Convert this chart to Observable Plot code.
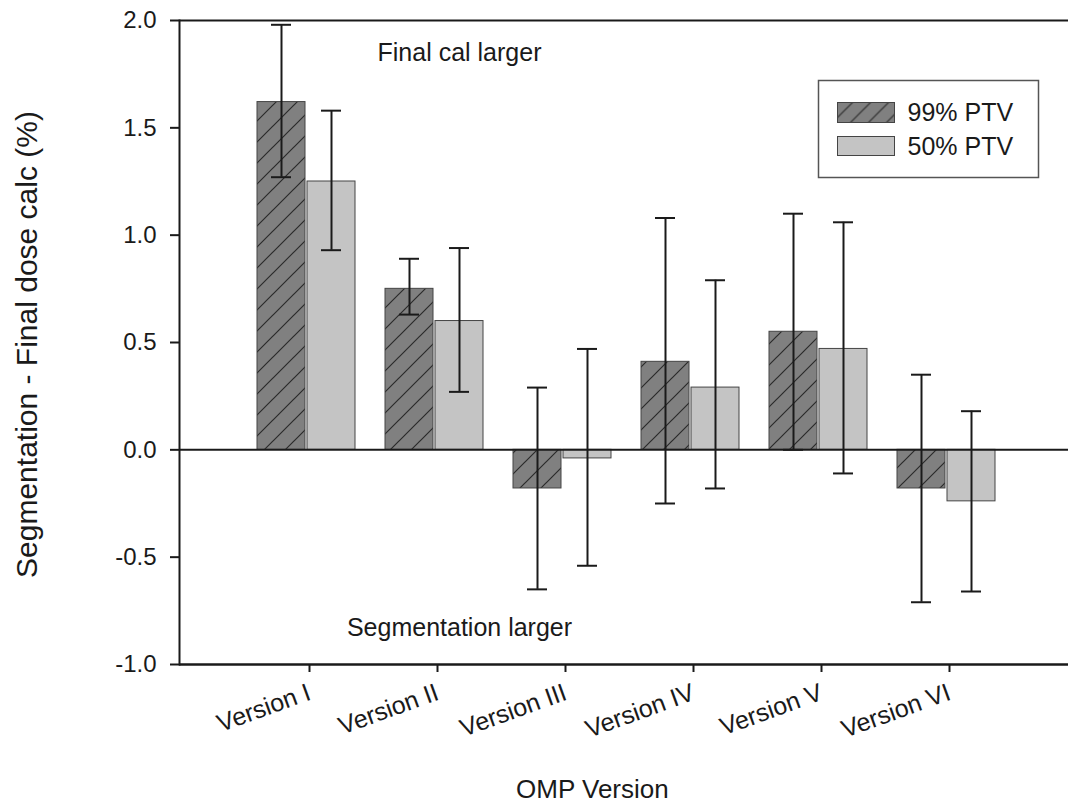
<!DOCTYPE html>
<html><head><meta charset="utf-8">
<script src="https://cdn.jsdelivr.net/npm/d3@7"></script>
<script src="https://cdn.jsdelivr.net/npm/@observablehq/plot@0.6"></script>
<style>
body{margin:0;background:#fff;}
#chart{width:1068px;height:806px;}
</style>
</head><body><div id="chart"></div>
<script>
const versions = ["Version I","Version II","Version III","Version IV","Version V","Version VI"];
const seriesNames = ["99% PTV","50% PTV"];
const ptv99 = [1.62, 0.75, -0.18, 0.41, 0.55, -0.18];
const ptv99Low = [1.27, 0.63, -0.65, -0.25, 0.00, -0.71];
const ptv99High = [1.98, 0.89, 0.29, 1.08, 1.10, 0.35];
const ptv50 = [1.25, 0.60, -0.04, 0.29, 0.47, -0.24];
const ptv50Low = [0.93, 0.27, -0.54, -0.18, -0.11, -0.66];
const ptv50High = [1.58, 0.94, 0.47, 0.79, 1.06, 0.18];
const yTicks = [-1.0, -0.5, 0.0, 0.5, 1.0, 1.5, 2.0];
const yLabel = "Segmentation - Final dose calc (%)";
const xLabel = "OMP Version";
const notes = [{text: "Final cal larger", version: "Version II", y: 1.85},
               {text: "Segmentation larger", version: "Version II", y: -0.83}];

const rows99 = versions.map((v, i) => ({version: v, series: seriesNames[0], value: ptv99[i], low: ptv99Low[i], high: ptv99High[i]}));
const rows50 = versions.map((v, i) => ({version: v, series: seriesNames[1], value: ptv50[i], low: ptv50Low[i], high: ptv50High[i]}));

const font = "'Liberation Sans', Arial, sans-serif";
const ink = "#1a1a1a";

function errorBars(rows, dx) {
  return [
    Plot.ruleX(rows, {x: "version", y1: "low", y2: "high", dx, stroke: ink, strokeWidth: 2}),
    Plot.tickY(rows, {x: "version", y: "high", dx, insetLeft: 54, insetRight: 54, stroke: ink, strokeWidth: 2}),
    Plot.tickY(rows, {x: "version", y: "low", dx, insetLeft: 54, insetRight: 54, stroke: ink, strokeWidth: 2})
  ];
}

const svg = Plot.plot({
  width: 1068,
  height: 806,
  marginLeft: 179,
  marginRight: 0,
  marginTop: 20,
  marginBottom: 142,
  style: {fontFamily: font, fontSize: "24px", color: ink, background: "#fff"},
  x: {type: "band", domain: versions, range: [241, 1009], padding: 0},
  y: {domain: [-1, 2]},
  marks: [
    Plot.barY(rows99, {x: "version", y: "value", fill: "url(#hatch)", stroke: "#444", strokeWidth: 1, insetLeft: 16, insetRight: 64}),
    Plot.barY(rows50, {x: "version", y: "value", fill: "#c4c4c4", stroke: "#444", strokeWidth: 1, insetLeft: 66, insetRight: 14}),
    Plot.ruleY([0], {stroke: ink, strokeWidth: 2}),
    Plot.ruleY([2], {stroke: ink, strokeWidth: 2}),
    Plot.ruleY([-1], {stroke: ink, strokeWidth: 2.5}),
    Plot.frame({anchor: "left", stroke: ink, strokeWidth: 2}),
    ...errorBars(rows99, -24),
    ...errorBars(rows50, 26),
    Plot.axisY({ticks: yTicks, tickFormat: d => d.toFixed(1), tickSize: 9, tickPadding: 14, fontSize: 24, label: null, strokeWidth: 2, stroke: ink}),
    Plot.axisX({tickSize: 8, tickRotate: -20, textAnchor: "end", lineAnchor: "middle", tickPadding: 19, dx: 4, fontSize: 25, label: null, strokeWidth: 2, stroke: ink}),
    Plot.text(notes, {x: "version", y: "y", text: "text", dx: 26, fontSize: 25, fill: ink}),
    Plot.text([yLabel], {frameAnchor: "left", textAnchor: "middle", lineAnchor: "middle", rotate: -90, dx: -152, dy: 2, fontSize: 30, fill: ink}),
    Plot.text([xLabel], {frameAnchor: "bottom", textAnchor: "start", lineAnchor: "middle", dx: -108, dy: 125, fontSize: 26, fill: ink}),
    // legend
    Plot.frame({insetLeft: 639, insetRight: 30, insetTop: 60, insetBottom: 487, fill: "#fff", stroke: "#555", strokeWidth: 1.5}),
    Plot.frame({insetLeft: 658, insetRight: 174, insetTop: 82, insetBottom: 542, fill: "url(#hatchSmall)", stroke: "#444", strokeWidth: 1}),
    Plot.frame({insetLeft: 658, insetRight: 174, insetTop: 116, insetBottom: 509, fill: "#c4c4c4", stroke: "#444", strokeWidth: 1}),
    Plot.text([seriesNames[0]], {frameAnchor: "top-left", textAnchor: "start", lineAnchor: "middle", dx: 728, dy: 92, fontSize: 25, fill: ink}),
    Plot.text([seriesNames[1]], {frameAnchor: "top-left", textAnchor: "start", lineAnchor: "middle", dx: 728, dy: 126, fontSize: 25, fill: ink})
  ]
});

d3.select(svg).insert("defs", ":first-child").html(
  `<pattern id="hatch" patternUnits="userSpaceOnUse" width="21" height="21">
     <rect width="21" height="21" fill="#808080"/>
     <path d="M-5,5 L5,-5 M0,21 L21,0 M16,26 L26,16" stroke="#2a2a2a" stroke-width="1.2"/>
   </pattern>
   <pattern id="hatchSmall" patternUnits="userSpaceOnUse" width="18" height="18">
     <rect width="18" height="18" fill="#808080"/>
     <path d="M-5,5 L5,-5 M0,18 L18,0 M13,23 L23,13" stroke="#2a2a2a" stroke-width="1.2"/>
   </pattern>`);

document.getElementById("chart").appendChild(svg);
</script>
</body></html>
